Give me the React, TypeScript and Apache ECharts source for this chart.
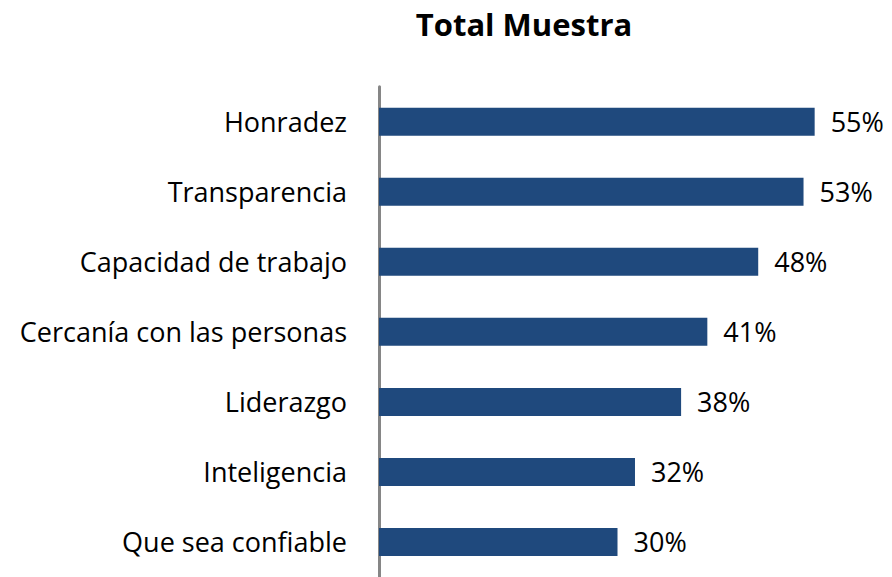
import React, { useEffect, useRef } from "react";
import * as echarts from "echarts";

const title = "Total Muestra";
const categories = [
  "Honradez",
  "Transparencia",
  "Capacidad de trabajo",
  "Cercanía con las personas",
  "Liderazgo",
  "Inteligencia",
  "Que sea confiable",
];
const values = [54.8, 53.4, 47.7, 41.3, 38.0, 32.2, 30.0];

const FONT = "'Open Sans', sans-serif";

export default function App() {
  const ref = useRef<HTMLDivElement>(null);
  useEffect(() => {
    if (!ref.current) return;
    const chart = echarts.init(ref.current, undefined, { renderer: "svg" });
    chart.setOption({
      animation: false,
      backgroundColor: "#ffffff",
      title: {
        text: title,
        left: 519,
        top: 3,
        textAlign: "center",
        textStyle: { fontFamily: FONT, fontSize: 31, fontWeight: "bold", color: "#000" },
      },
      grid: { left: 379, top: 86.7, width: 477, height: 494.7, containLabel: false },
      xAxis: {
        type: "value",
        min: 0,
        max: 60,
        show: false,
        splitLine: { show: false },
      },
      yAxis: {
        type: "category",
        data: categories,
        inverse: true,
        offset: 2,
        axisLine: { show: true, lineStyle: { color: "#868686", width: 3 } },
        axisTick: { show: false },
        axisLabel: { fontFamily: FONT, fontSize: 27, color: "#000", margin: 30 },
      },
      series: [
        {
          type: "bar",
          data: values,
          barWidth: 28,
          itemStyle: { color: "#1f497d" },
          label: {
            show: true,
            position: "right",
            distance: 16,
            formatter: (p: any) => Math.round(p.value) + "%",
            fontFamily: FONT,
            fontSize: 27,
            color: "#000",
          },
        },
      ],
    });
    return () => chart.dispose();
  }, []);
  return <div ref={ref} style={{ width: 892, height: 577, position: "absolute", left: 0, top: 0 }} />;
}
